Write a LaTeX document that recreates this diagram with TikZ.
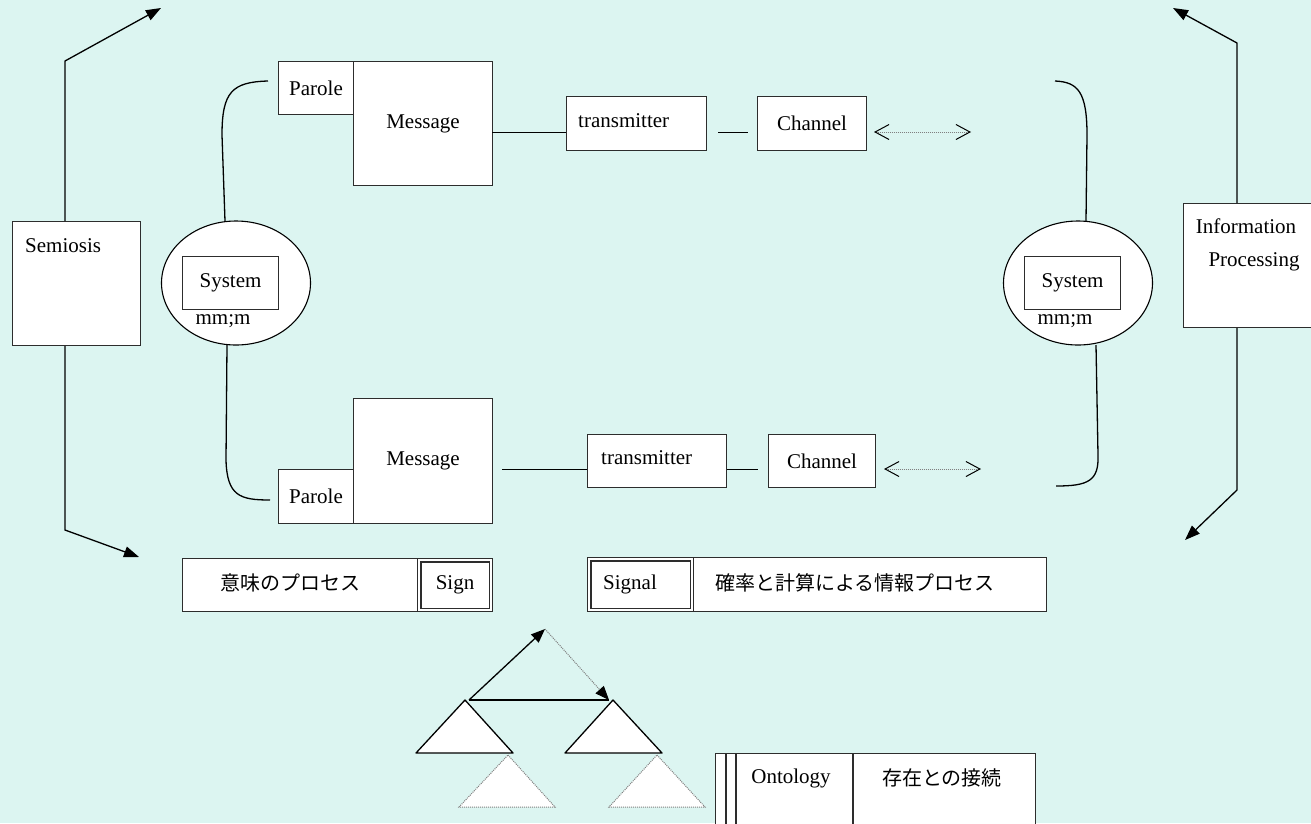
\documentclass[tikz,border=0pt]{standalone}
\usepackage{fontspec}
\setmainfont{Liberation Serif}
\newfontfamily\jpfont{Noto Sans CJK JP}
\usetikzlibrary{arrows.meta,shapes.geometric,calc}
\definecolor{bgcol}{RGB}{220,245,241}
\definecolor{edge}{RGB}{45,45,45}
\tikzset{
  box/.style={draw=edge, fill=white, line width=1.1pt, inner sep=0pt, anchor=north west,
    font=\fontsize{21}{25}\selectfont},
  innerframe/.style={draw=edge, line width=1.1pt},
  lbl/.style={inner sep=0pt, font=\fontsize{21}{25}\selectfont},
  jlbl/.style={inner sep=0pt, font=\jpfont\fontsize{20}{24}\selectfont},
  conn/.style={line width=1.3pt, black},
  bigtip/.style={-{Triangle[length=15pt,width=11pt]}},
  barbs/.style={{Straight Barb[length=14pt,width=15pt,line width=1pt,color=black]}-{Straight Barb[length=14pt,width=15pt,line width=1pt,color=black]}},
  sysring/.style={ellipse, draw=black, fill=white, line width=1.1pt, inner sep=0pt,
    minimum width=149pt, minimum height=124pt},
}
\begin{document}
\begin{tikzpicture}[x=1pt,y=-1pt]
\useasboundingbox (0,0) rectangle (1311,823);
\fill[bgcol] (0,0) rectangle (1311,823);
\clip (0,0) rectangle (1311,823);

% ---- side boxes -------------------------------------------------------
\node[box, minimum width=128pt, minimum height=124pt] (semiosis) at (12,221) {};
\node[lbl, anchor=west] (semiosistxt) at (25,246) {Semiosis};
\node[box, minimum width=140pt, minimum height=124pt] (infoproc) at (1183,203) {};
\node[lbl] (infotxt1) at (1246,226) {Information};
\node[lbl] (infotxt2) at (1254,262) {Processing};

% left bracket arrows
\coordinate (sl1) at (65,61);   \coordinate (sltip1) at (161,8);
\coordinate (sl2) at (65,530);  \coordinate (sltip2) at (139,557);
\draw[conn, bigtip] (semiosis.north -| sl1) -- (sl1) -- (sltip1);
\draw[conn, bigtip] (semiosis.south -| sl2) -- (sl2) -- (sltip2);
% right bracket arrows
\coordinate (ir1) at (1237,43);  \coordinate (irtip1) at (1173,8);
\coordinate (ir2) at (1237,490); \coordinate (irtip2) at (1185,540);
\draw[conn, bigtip] (infoproc.north -| ir1) -- (ir1) -- (irtip1);
\draw[conn, bigtip] (infoproc.south -| ir2) -- (ir2) -- (irtip2);

% ---- upper chain -------------------------------------------------------
\node[box, minimum width=75pt, minimum height=53pt] (parA) at (278,61) {Parole};
\node[box, minimum width=139pt, minimum height=124pt] (msgA) at (353,61) {Message};
\node[box, minimum width=140pt, minimum height=54pt] (trA) at (566,96) {};
\node[lbl, anchor=west] (trAtxt) at (578,121) {transmitter};
\node[box, minimum width=109pt, minimum height=54pt] (chA) at (757,96) {Channel};
\coordinate (lA) at (492,132);
\draw[conn, line width=1pt] (lA) -- (lA -| trA.west);
\coordinate (dA1) at (718,132); \coordinate (dA2) at (748,132);
\draw[conn, line width=1pt] (dA1) -- (dA2);
\coordinate (bA1) at (874,132); \coordinate (bA2) at (971,132);
\draw[gray, line width=1pt, densely dotted, barbs] (bA1) -- (bA2);

% ---- lower chain -------------------------------------------------------
\node[box, minimum width=75pt, minimum height=54pt] (parB) at (278,469) {Parole};
\node[box, minimum width=139pt, minimum height=125pt] (msgB) at (353,398) {Message};
\node[box, minimum width=139pt, minimum height=53pt] (trB) at (587,434) {};
\node[lbl, anchor=west] (trBtxt) at (601,458) {transmitter};
\node[box, minimum width=107pt, minimum height=53pt] (chB) at (768,434) {Channel};
\coordinate (mB) at (502,469);
\draw[conn, line width=1pt] (mB) -- (mB -| trB.west);
\coordinate (dB) at (758,469);
\draw[conn, line width=1pt] (trB.east |- dB) -- (dB);
\coordinate (bB1) at (884,469); \coordinate (bB2) at (981,469);
\draw[gray, line width=1pt, densely dotted, barbs] (bB1) -- (bB2);

% ---- systems -----------------------------------------------------------
\node[sysring] (sysL) at (236,283) {};
\node[box, minimum width=96pt, minimum height=53pt] (sysLbox) at (182,256) {System};
\node[lbl] (sysLsub) at (223,321) {mm;m};
\node[sysring] (sysR) at (1078,283) {};
\node[box, minimum width=96pt, minimum height=53pt] (sysRbox) at (1024,256) {System};
\node[lbl] (sysRsub) at (1065,321) {mm;m};

% hand-drawn links between the systems and the paroles
\coordinate (cA) at (268,81);
\coordinate (cB) at (270,500);
\coordinate (cC) at (1055,81);
\coordinate (cD) at (1056,486);
\draw[conn] (225,221) -- (222,135) .. controls (222,92) and (232,82) .. (cA);
\draw[conn] (227,345) -- (226,460) .. controls (227,496) and (240,500) .. (cB);
\draw[conn] (1086,221) -- (1087,135) .. controls (1087,92) and (1078,82) .. (cC);
\draw[conn] (1096,345) -- (1098,455) .. controls (1099,481) and (1088,486) .. (cD);

% ---- sign / signal bars ------------------------------------------------
\node[box, minimum width=235pt, minimum height=53pt] (imibar) at (182,558) {};
\node[jlbl] (imitxt) at (290,583) {意味のプロセス};
\node[box, minimum width=75pt, minimum height=53pt] (sign) at (417,558) {Sign};
\draw[innerframe] ($(sign.north west)+(4,4)$) rectangle ($(sign.south east)+(-4,-4)$);
\node[box, minimum width=353pt, minimum height=54pt] (infobar) at (693,557) {};
\node[jlbl] (infobartxt) at (855,583) {確率と計算による情報プロセス};
\node[box, minimum width=106pt, minimum height=54pt] (signal) at (587,557) {};
\draw[innerframe] ($(signal.north west)+(4,4)$) rectangle ($(signal.south east)+(-4,-4)$);
\node[lbl, anchor=west] (signaltxt) at (603,584) {Signal};

% ---- trees -------------------------------------------------------------
\tikzset{tri/.style={fill=white, draw=black, line width=1.3pt, line join=round},
         dtri/.style={fill=white, draw=gray, line width=1pt, densely dotted}}
\draw[dtri] (508,755) -- (555,807) -- (459,807) -- cycle;
\draw[dtri] (657,755) -- (705,807) -- (609,807) -- cycle;
\draw[tri] (465,700) -- (513,753) -- (416,753) -- cycle;
\draw[tri] (613,700) -- (662,753) -- (565,753) -- cycle;
\coordinate (tL) at (469,700);
\coordinate (tTop) at (545,629);
\coordinate (tR) at (609,700);
\draw[conn, -{Triangle[length=14pt,width=11pt]}] (tL) -- (tTop);
\draw[gray, line width=1pt, densely dotted, -{Triangle[length=14pt,width=11pt,color=black]}] (tTop) -- (tR);
\draw[conn] (tL) -- (tR);

% ---- ontology ----------------------------------------------------------
\node[box, minimum width=320pt, minimum height=100pt] (onto) at (715,753) {};
\draw[edge, line width=1.1pt] (726,753) -- (726,830);
\draw[edge, line width=1.1pt] (736,753) -- (736,830);
\draw[edge, line width=1.1pt] (853,753) -- (853,830);
\node[lbl] (ontotxt) at (791,778) {Ontology};
\node[jlbl] (ontojp) at (942,778) {存在との接続};
\end{tikzpicture}
\end{document}
